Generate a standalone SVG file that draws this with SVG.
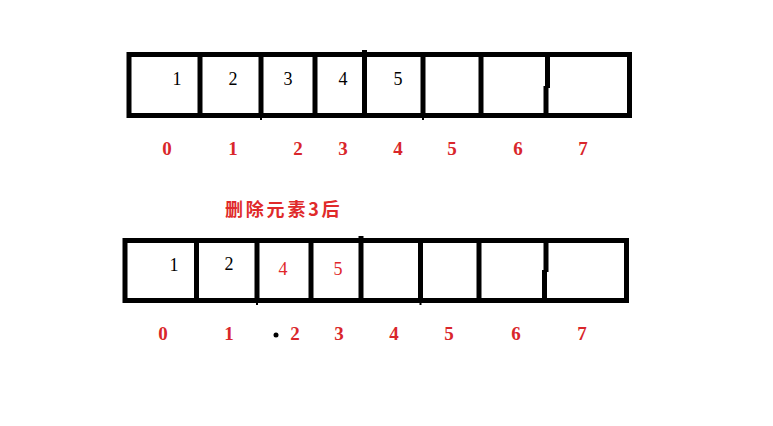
<svg xmlns="http://www.w3.org/2000/svg" width="773" height="426" viewBox="0 0 773 426">
<style>
.box{fill:none;stroke:#000;stroke-width:5}
.div{stroke:#000;stroke-width:5}
.tick{stroke:#000;stroke-width:2}
.val{font-family:"Liberation Serif",serif;font-size:18px;text-anchor:middle;fill:#000}
.valr{font-family:"Liberation Serif",serif;font-size:18px;text-anchor:middle;fill:#e0262a}
.idx{font-family:"Liberation Serif",serif;font-size:19px;font-weight:bold;text-anchor:middle;fill:#d9262b}
.title{font-family:"Noto Sans CJK SC","Liberation Serif",sans-serif;font-size:18px;font-weight:bold;fill:#e02a2a;letter-spacing:2.8px}
</style>
<rect width="773" height="426" fill="#fff"/>
<g id="array-before">
<rect class="box" x="129" y="54.5" width="500.5" height="61"/>
<line class="div" x1="200" y1="54" x2="200" y2="116"/>
<line class="div" x1="261" y1="54" x2="261" y2="116"/>
<line class="div" x1="315" y1="54" x2="315" y2="116"/>
<line class="div" x1="364.5" y1="50" x2="364.5" y2="116"/>
<line class="div" x1="423" y1="54" x2="423" y2="116"/>
<line class="div" x1="481" y1="54" x2="481" y2="116"/>
<line class="div" x1="547.5" y1="54" x2="547.5" y2="88"/>
<line class="div" x1="546" y1="86" x2="546" y2="116"/>
<line class="tick" x1="261" y1="116" x2="261" y2="120"/>
<line class="tick" x1="423" y1="116" x2="423" y2="120"/>
<text class="val" x="177" y="85">1</text>
<text class="val" x="233" y="85">2</text>
<text class="val" x="288" y="85">3</text>
<text class="val" x="343" y="85">4</text>
<text class="val" x="398" y="85">5</text>
</g>
<g id="index-before">
<text class="idx" x="167" y="155">0</text>
<text class="idx" x="233" y="155">1</text>
<text class="idx" x="298" y="155">2</text>
<text class="idx" x="343" y="155">3</text>
<text class="idx" x="398" y="155">4</text>
<text class="idx" x="452" y="155">5</text>
<text class="idx" x="518" y="155">6</text>
<text class="idx" x="583" y="155">7</text>
</g>
<g id="title">
<text class="title" x="225" y="216">删除元素3后</text>
</g>
<g id="array-after">
<rect class="box" x="125" y="240.5" width="501.5" height="60"/>
<line class="div" x1="196.5" y1="240" x2="196.5" y2="301"/>
<line class="div" x1="257" y1="240" x2="257" y2="301"/>
<line class="div" x1="311" y1="240" x2="311" y2="301"/>
<line class="div" x1="361" y1="236" x2="361" y2="301"/>
<line class="div" x1="420.5" y1="240" x2="420.5" y2="301"/>
<line class="div" x1="479" y1="240" x2="479" y2="301"/>
<line class="div" x1="546" y1="240" x2="546" y2="272"/>
<line class="div" x1="544.5" y1="270" x2="544.5" y2="301"/>
<line class="tick" x1="257" y1="301" x2="257" y2="305"/>
<line class="tick" x1="420.5" y1="301" x2="420.5" y2="305"/>
<text class="val" x="174" y="271">1</text>
<text class="val" x="229" y="270">2</text>
<text class="valr" x="283" y="275">4</text>
<text class="valr" x="338" y="275">5</text>
</g>
<g id="index-after">
<text class="idx" x="163" y="340">0</text>
<text class="idx" x="229" y="340">1</text>
<text class="idx" x="295" y="340">2</text>
<text class="idx" x="339" y="340">3</text>
<text class="idx" x="394" y="340">4</text>
<text class="idx" x="449" y="340">5</text>
<text class="idx" x="516" y="340">6</text>
<text class="idx" x="582" y="340">7</text>
</g>
<circle cx="276" cy="335" r="2.5" fill="#000"/>
<g id="connectors"></g>
</svg>
